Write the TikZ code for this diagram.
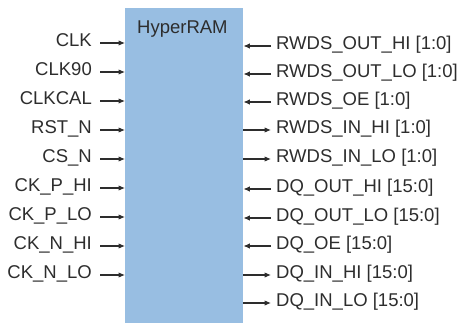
\documentclass[tikz,border=0pt]{standalone}
\usepackage{fontspec}
\setmainfont{Liberation Sans}
\usetikzlibrary{arrows.meta, positioning}

\definecolor{ramblue}{RGB}{152,190,226}
\definecolor{sigtext}{RGB}{45,45,45}

\begin{document}
\begin{tikzpicture}[
x=1pt, y=-1pt,
font=\fontsize{18.5}{20}\selectfont,
block/.style={rectangle, fill=ramblue, minimum width=118pt, minimum height=315pt, anchor=north west, inner sep=0pt},
sig/.style={text=sigtext, inner ysep=0pt, text height=0.72em, text depth=0pt},
insig/.style={sig, anchor=east, inner xsep=8pt},
outsig/.style={sig, anchor=west, inner xsep=5pt},
arrow/.style={-{Latex[length=6.5pt, width=5.5pt]}, line width=1.1pt, draw=sigtext}
]
\useasboundingbox (0,0) rectangle (460,323);

\node[block] (ram) at (125,8) {};
\node[sig, anchor=west, inner xsep=0pt] (title) at (137,30) {HyperRAM};

% control inputs
\node[insig] (clk) at (100,43) {CLK};
\node[insig] (clkninety) at (100,72) {CLK90};
\node[insig] (clkcal) at (100,101) {CLKCAL};
\node[insig] (rstn) at (100,130) {RST\_N};
\node[insig] (csn) at (100,159) {CS\_N};
\node[insig] (ckphi) at (100,188) {CK\_P\_HI};
\node[insig] (ckplo) at (100,217) {CK\_P\_LO};
\node[insig] (cknhi) at (100,246) {CK\_N\_HI};
\node[insig] (cknlo) at (100,275) {CK\_N\_LO};

% data ports
\node[outsig] (rwdsouthi) at (271,46) {RWDS\_OUT\_HI [1:0]};
\node[outsig] (rwdsoutlo) at (271,74) {RWDS\_OUT\_LO [1:0]};
\node[outsig] (rwdsoe) at (271,102) {RWDS\_OE [1:0]};
\node[outsig] (rwdsinhi) at (271,130) {RWDS\_IN\_HI [1:0]};
\node[outsig] (rwdsinlo) at (271,159) {RWDS\_IN\_LO [1:0]};
\node[outsig] (dqouthi) at (271,189) {DQ\_OUT\_HI [15:0]};
\node[outsig] (dqoutlo) at (271,218) {DQ\_OUT\_LO [15:0]};
\node[outsig] (dqoe) at (271,246) {DQ\_OE [15:0]};
\node[outsig] (dqinhi) at (271,275) {DQ\_IN\_HI [15:0]};
\node[outsig] (dqinlo) at (271,303) {DQ\_IN\_LO [15:0]};

\draw[arrow] (clk) -- (clk -| ram.west);
\draw[arrow] (clkninety) -- (clkninety -| ram.west);
\draw[arrow] (clkcal) -- (clkcal -| ram.west);
\draw[arrow] (rstn) -- (rstn -| ram.west);
\draw[arrow] (csn) -- (csn -| ram.west);
\draw[arrow] (ckphi) -- (ckphi -| ram.west);
\draw[arrow] (ckplo) -- (ckplo -| ram.west);
\draw[arrow] (cknhi) -- (cknhi -| ram.west);
\draw[arrow] (cknlo) -- (cknlo -| ram.west);

\draw[arrow] (rwdsouthi) -- (rwdsouthi -| ram.east);
\draw[arrow] (rwdsoutlo) -- (rwdsoutlo -| ram.east);
\draw[arrow] (rwdsoe) -- (rwdsoe -| ram.east);
\draw[arrow] (rwdsinhi -| ram.east) -- (rwdsinhi);
\draw[arrow] (rwdsinlo -| ram.east) -- (rwdsinlo);
\draw[arrow] (dqouthi) -- (dqouthi -| ram.east);
\draw[arrow] (dqoutlo) -- (dqoutlo -| ram.east);
\draw[arrow] (dqoe) -- (dqoe -| ram.east);
\draw[arrow] (dqinhi -| ram.east) -- (dqinhi);
\draw[arrow] (dqinlo -| ram.east) -- (dqinlo);

\end{tikzpicture}
\end{document}
